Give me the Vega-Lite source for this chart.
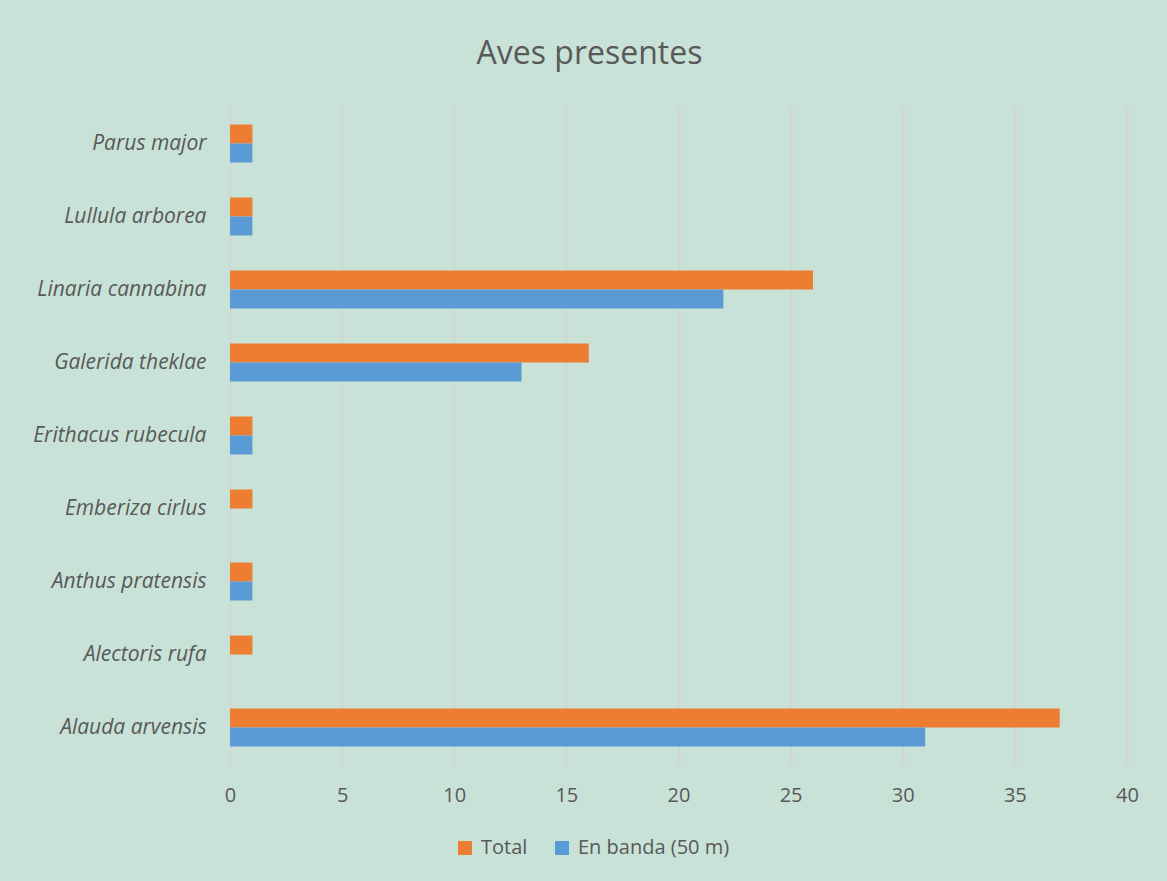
{
  "$schema": "https://vega.github.io/schema/vega-lite/v6.json",
  "width": 897,
  "height": 657,
  "autosize": {"type": "none"},
  "padding": {"left": 230, "top": 107, "right": 40, "bottom": 117},
  "background": "#C8E2D7",
  "title": {
    "text": "Aves presentes",
    "fontSize": 32,
    "font": "Open Sans",
    "fontWeight": "normal",
    "color": "#595959",
    "anchor": "middle",
    "dx": -89,
    "offset": 36
  },
  "data": {
    "values": [
      {"species": "Parus major", "serie": "Total", "value": 1},
      {"species": "Parus major", "serie": "En banda (50 m)", "value": 1},
      {"species": "Lullula arborea", "serie": "Total", "value": 1},
      {"species": "Lullula arborea", "serie": "En banda (50 m)", "value": 1},
      {"species": "Linaria cannabina", "serie": "Total", "value": 26},
      {"species": "Linaria cannabina", "serie": "En banda (50 m)", "value": 22},
      {"species": "Galerida theklae", "serie": "Total", "value": 16},
      {"species": "Galerida theklae", "serie": "En banda (50 m)", "value": 13},
      {"species": "Erithacus rubecula", "serie": "Total", "value": 1},
      {"species": "Erithacus rubecula", "serie": "En banda (50 m)", "value": 1},
      {"species": "Emberiza cirlus", "serie": "Total", "value": 1},
      {"species": "Emberiza cirlus", "serie": "En banda (50 m)", "value": 0},
      {"species": "Anthus pratensis", "serie": "Total", "value": 1},
      {"species": "Anthus pratensis", "serie": "En banda (50 m)", "value": 1},
      {"species": "Alectoris rufa", "serie": "Total", "value": 1},
      {"species": "Alectoris rufa", "serie": "En banda (50 m)", "value": 0},
      {"species": "Alauda arvensis", "serie": "Total", "value": 37},
      {"species": "Alauda arvensis", "serie": "En banda (50 m)", "value": 31}
    ]
  },
  "mark": {"type": "bar"},
  "encoding": {
    "y": {
      "field": "species",
      "type": "nominal",
      "sort": ["Parus major", "Lullula arborea", "Linaria cannabina", "Galerida theklae", "Erithacus rubecula", "Emberiza cirlus", "Anthus pratensis", "Alectoris rufa", "Alauda arvensis"],
      "scale": {"paddingInner": 0.48, "paddingOuter": 0.24},
      "axis": {
        "title": null,
        "domain": false,
        "ticks": false,
        "labelFont": "Open Sans",
        "labelFontStyle": "italic",
        "labelFontSize": 21,
        "labelColor": "#595959",
        "labelPadding": 24
      }
    },
    "yOffset": {
      "field": "serie",
      "type": "nominal",
      "sort": ["Total", "En banda (50 m)"],
      "scale": {"paddingInner": 0, "paddingOuter": 0}
    },
    "x": {
      "field": "value",
      "type": "quantitative",
      "scale": {"domain": [0, 40], "nice": false},
      "axis": {
        "title": null,
        "values": [0, 5, 10, 15, 20, 25, 30, 35, 40],
        "domain": false,
        "ticks": false,
        "grid": true,
        "gridColor": "#D8CFD2",
        "gridWidth": 1.5,
        "labelFlush": false,
        "labelFont": "Open Sans",
        "labelFontSize": 20,
        "labelColor": "#595959",
        "labelPadding": 21
      }
    },
    "color": {
      "field": "serie",
      "type": "nominal",
      "sort": ["Total", "En banda (50 m)"],
      "scale": {"domain": ["Total", "En banda (50 m)"], "range": ["#ED7D31", "#5B9BD5"]},
      "legend": {
        "title": null,
        "orient": "none",
        "direction": "horizontal",
        "legendX": 225,
        "legendY": 731,
        "symbolType": "square",
        "symbolSize": 196,
        "symbolStrokeWidth": 0,
        "labelFont": "Open Sans",
        "labelFontSize": 20,
        "labelColor": "#595959",
        "labelOffset": 6,
        "columnPadding": 24
      }
    }
  },
  "config": {
    "view": {"stroke": null}
  }
}
